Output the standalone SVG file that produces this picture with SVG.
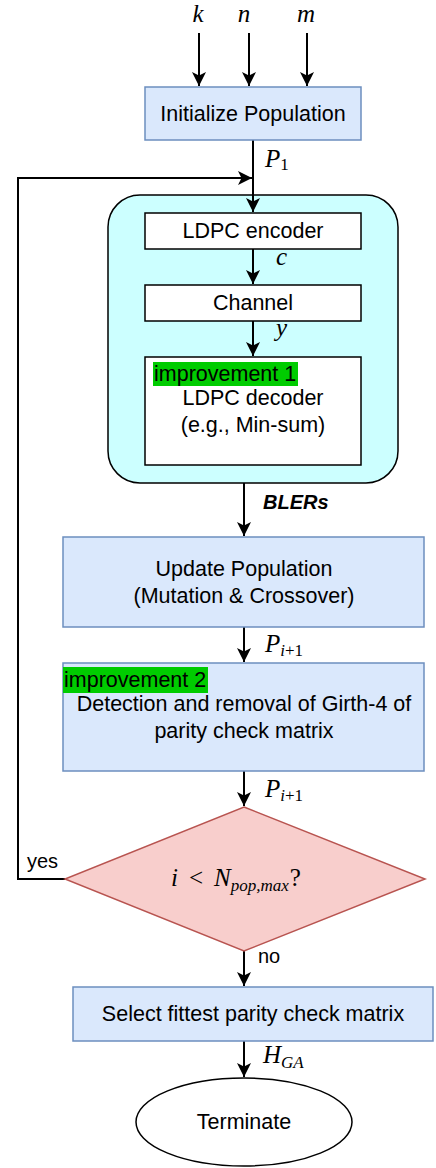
<svg xmlns="http://www.w3.org/2000/svg" width="436" height="1168" viewBox="0 0 436 1168">
<style>
.t{font-family:"Liberation Sans",Arial,sans-serif;font-size:21.5px;fill:#000;text-anchor:middle}
.tl{font-family:"Liberation Sans",Arial,sans-serif;font-size:21.5px;fill:#000}
.s{font-family:"Liberation Sans",Arial,sans-serif;font-size:20px;fill:#000}
.m{font-family:"Liberation Serif","Times New Roman",serif;font-size:25px;fill:#000;font-style:italic}
.sub{font-size:17px}
.up{font-style:normal}
.blue{fill:#dae8fc;stroke:#6c8ebf;stroke-width:1.5}
.white{fill:#fff;stroke:#000;stroke-width:1.5}
.edge{fill:none;stroke:#000;stroke-width:2}
.hl{fill:#00cc00}
</style>
<defs>
<marker id="arr" markerUnits="userSpaceOnUse" markerWidth="16" markerHeight="14" refX="14" refY="7" orient="auto">
<path d="M0,0 L14,7 L0,14 L3.5,7 Z" fill="#000"/>
</marker>
</defs>
<rect width="436" height="1168" fill="#fff"/>
<g id="container">
<rect x="108" y="195" width="290" height="288" rx="32" fill="#ccffff" stroke="#000" stroke-width="1.5"/>
</g>
<g id="connectors">
<line class="edge" x1="199" y1="33" x2="199" y2="86" marker-end="url(#arr)"/>
<line class="edge" x1="249" y1="33" x2="249" y2="86" marker-end="url(#arr)"/>
<line class="edge" x1="307" y1="33" x2="307" y2="86" marker-end="url(#arr)"/>
<line class="edge" x1="253" y1="140" x2="253" y2="212" marker-end="url(#arr)"/>
<line class="edge" x1="253" y1="249" x2="253" y2="284" marker-end="url(#arr)"/>
<line class="edge" x1="253" y1="321" x2="253" y2="356" marker-end="url(#arr)"/>
<line class="edge" x1="244" y1="483" x2="244" y2="536" marker-end="url(#arr)"/>
<line class="edge" x1="244" y1="627" x2="244" y2="662" marker-end="url(#arr)"/>
<line class="edge" x1="244" y1="771" x2="244" y2="806" marker-end="url(#arr)"/>
<polyline class="edge" points="65,879 18,879 18,178 252,178" marker-end="url(#arr)"/>
<line class="edge" x1="244" y1="951" x2="244" y2="986" marker-end="url(#arr)"/>
<line class="edge" x1="244" y1="1041" x2="244" y2="1077" marker-end="url(#arr)"/>
</g>
<g id="init">
<rect class="blue" x="145" y="87" width="216" height="53"/>
<text class="t" x="253" y="120.5">Initialize Population</text>
</g>
<g id="encoder">
<rect class="white" x="145" y="213" width="216" height="36"/>
<text class="t" x="253" y="238">LDPC encoder</text>
</g>
<g id="channel">
<rect class="white" x="145" y="285" width="216" height="36"/>
<text class="t" x="253" y="310">Channel</text>
</g>
<g id="decoder">
<rect class="white" x="145" y="357" width="216" height="108"/>
<rect class="hl" x="153" y="362" width="145" height="24"/>
<text class="tl" x="154" y="381">improvement 1</text>
<text class="t" x="253" y="405">LDPC decoder</text>
<text class="t" x="253" y="432">(e.g., Min-sum)</text>
</g>
<g id="update">
<rect class="blue" x="63" y="537" width="361" height="90"/>
<text class="t" x="244" y="576">Update Population</text>
<text class="t" x="244" y="603">(Mutation &amp; Crossover)</text>
</g>
<g id="girth">
<rect class="blue" x="63" y="663" width="361" height="108"/>
<rect class="hl" x="63" y="667" width="145" height="26"/>
<text class="tl" x="64" y="687">improvement 2</text>
<text class="t" x="244" y="711">Detection and removal of Girth-4 of</text>
<text class="t" x="244" y="738">parity check matrix</text>
</g>
<g id="decision">
<polygon points="244,807 425,879 244,951 65,879" fill="#f8cecc" stroke="#b85450" stroke-width="1.5"/>
<text class="m" x="171" y="886">i<tspan class="up" x="189">&lt;</tspan><tspan x="214">N</tspan><tspan class="sub" dx="0" dy="5">pop,max</tspan><tspan class="up" dx="1" dy="-5">?</tspan></text>
</g>
<g id="select">
<rect class="blue" x="73" y="987" width="360" height="54"/>
<text class="t" x="253" y="1021">Select fittest parity check matrix</text>
</g>
<g id="terminate">
<ellipse cx="244" cy="1122" rx="108" ry="44" fill="#fff" stroke="#000" stroke-width="1.5"/>
<text class="t" x="244" y="1129">Terminate</text>
</g>
<g id="labels">
<text class="m" x="198" y="22" text-anchor="middle">k</text>
<text class="m" x="244" y="22" text-anchor="middle">n</text>
<text class="m" x="306" y="22" text-anchor="middle">m</text>
<text class="m" x="265" y="167">P<tspan class="up sub" dy="3">1</tspan></text>
<text class="m" x="276" y="265" font-size="22">c</text>
<text class="m" x="276" y="336" font-size="20">y</text>
<text x="263" y="509" font-family="Liberation Sans,Arial,sans-serif" font-size="20" font-weight="bold" font-style="italic">BLERs</text>
<text class="m" x="265" y="652">P<tspan class="sub" dy="4">i</tspan><tspan class="up sub">+1</tspan></text>
<text class="m" x="265" y="797">P<tspan class="sub" dy="4">i</tspan><tspan class="up sub">+1</tspan></text>
<text class="s" x="27" y="868">yes</text>
<text class="s" x="258" y="963">no</text>
<text class="m" x="263" y="1063">H<tspan class="sub" dy="5">GA</tspan></text>
</g>
</svg>
